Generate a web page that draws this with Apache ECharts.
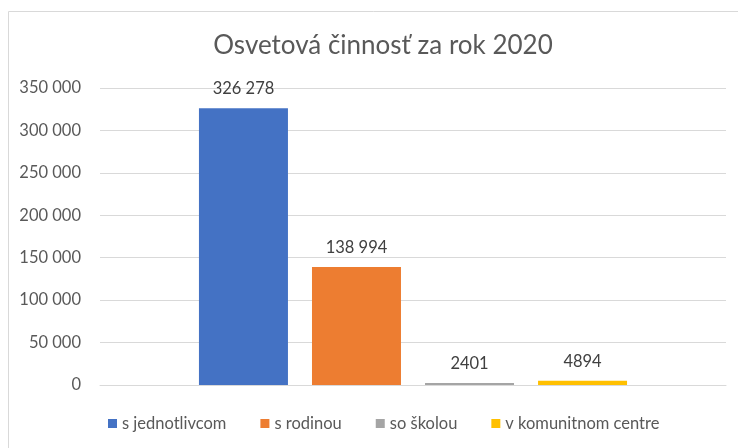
<!DOCTYPE html>
<html>
<head>
<meta charset="utf-8">
<script src="https://cdn.jsdelivr.net/npm/echarts@6/dist/echarts.min.js"></script>
<style>
	html, body { margin: 0; padding: 0; background: #fff; }
	#chart { width: 738px; height: 448px; }
</style>
</head>
<body>
<div id="chart"></div>
<script>
// údaje z grafu
const categories = ['2020'];
const seriesNames = ['s jednotlivcom', 's rodinou', 'so školou', 'v komunitnom centre'];
const seriesValues = [326278, 138994, 2401, 4894];
const seriesColors = ['#4472c4', '#ed7d31', '#a5a5a5', '#ffc000'];

const fontName = 'Lato';

// medzera ako oddeľovač tisícov (Excel ju pri 4 cifrách vynecháva)
const fmt = (v) => {
	if (Math.abs(v) < 10000) return String(v);
	return String(v).replace(/\B(?=(\d{3})+(?!\d))/g, ' ');
};

const chart = echarts.init(document.getElementById('chart'));

const series = seriesNames.map((name, i) => ({
	name: name,
	type: 'bar',
	data: [seriesValues[i]],
	barWidth: 89,
	barGap: '27%',
	itemStyle: { color: seriesColors[i] },
	label: {
		show: true,
		position: 'top',
		distance: 11,
		color: '#404040',
		fontSize: 16.5,
		fontFamily: fontName,
		formatter: (p) => fmt(p.value),
	},
}));

chart.setOption({
	animation: false,
	title: {
		text: 'Osvetová činnosť za rok 2020',
		left: 378,
		textAlign: 'center',
		top: 28,
		textStyle: {
			color: '#595959',
			fontSize: 26,
			fontWeight: 'normal',
			fontFamily: fontName,
		},
	},
	graphic: [
		{
			type: 'rect',
			shape: { x: 8.5, y: 11.5, width: 760, height: 470 },
			style: { fill: 'none', stroke: '#d9d9d9', lineWidth: 1 },
			silent: true,
		},
	],
	legend: {
		bottom: 11,
		left: 103,
		itemWidth: 9,
		itemHeight: 9,
		itemGap: 34,
		icon: 'rect',
		textStyle: { color: '#595959', fontSize: 16.5, fontFamily: fontName },
		data: seriesNames,
	},
	grid: {
		left: 100,
		right: 12,
		top: 88,
		bottom: 63,
	},
	xAxis: {
		type: 'category',
		data: categories,
		axisLine: { lineStyle: { color: '#d9d9d9', width: 1 } },
		axisTick: { show: false },
		axisLabel: { show: false },
	},
	yAxis: {
		type: 'value',
		min: 0,
		max: 350000,
		interval: 50000,
		axisLine: { show: false },
		axisTick: { show: false },
		axisLabel: {
			color: '#595959',
			fontSize: 16.5,
			fontFamily: fontName,
			margin: 19,
			formatter: (v) => (v === 0 ? '0' : String(v).replace(/\B(?=(\d{3})+(?!\d))/g, ' ')),
		},
		splitLine: { lineStyle: { color: '#d9d9d9', width: 1 } },
	},
	series: series,
});
</script>
</body>
</html>
